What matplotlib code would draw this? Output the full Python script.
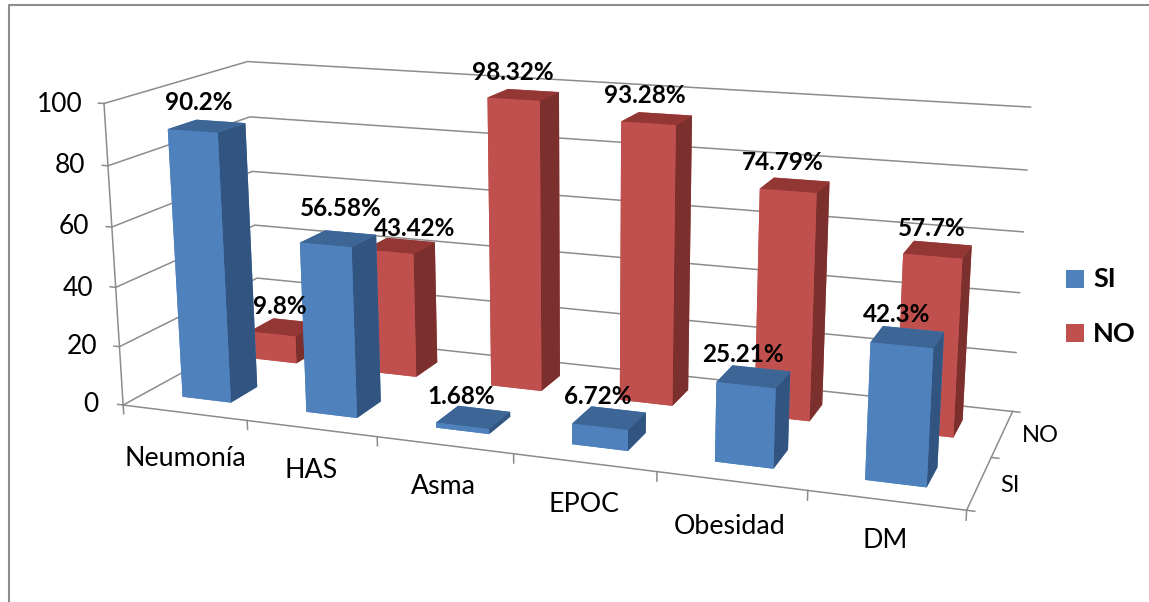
import matplotlib
matplotlib.use("Agg")
import matplotlib.pyplot as plt
from matplotlib.patches import Rectangle
plt.rcParams['font.family'] = ['Lato', 'DejaVu Sans']

categories = ["Neumonía", "HAS", "Asma", "EPOC", "Obesidad", "DM"]
series_names = ["SI", "NO"]
si_values = [90.2, 56.58, 1.68, 6.72, 25.21, 42.3]
no_values = [9.8, 43.42, 98.32, 93.28, 74.79, 57.7]
y_ticks = [0, 20, 40, 60, 80, 100]

# label anchor points in picture pixels
si_label_xy = [(199, 103), (341, 209), (461, 396), (598, 397), (743, 355), (897, 315)]
no_label_xy = [(280, 306), (415, 228), (513, 72), (645, 96), (783, 163), (932, 228)]
cat_label_xy = [(185, 458), (311, 470), (443, 486), (584, 504), (730, 526), (885, 540)]
tick_label_xy = [(91, 405), (82, 347), (78, 288), (74, 227), (70, 166), (60, 105)]
series_label_xy = [(1010, 485), (1040, 436)]
legend_rect_y = [270, 324]
legend_text_y = [279, 334]

W, H = 1149, 602
def px(x, y):
    return x / W, 1 - y / H

fig = plt.figure(figsize=(W/100, H/100), dpi=100, facecolor='white')
side, left, bottom = 955.0, 94.16, 771.16
ax = fig.add_axes([left/W, 1 - bottom/H, side/W, side/H], projection='3d', computed_zorder=False)
ax.set_proj_type('persp', focal_length=0.3844)
ax.view_init(elev=15.03, azim=-70.27)
nx, depth = len(categories), 2.0
xc, yc, zc = 3.2461, 0.7109, 47.46
ax.set_xlim(xc - 3, xc + 3); ax.set_ylim(yc - 1, yc + 1); ax.set_zlim(zc - 50, zc + 50)
ax.set_box_aspect((3.4438, 1.1484, 1.25))
ax.set_xticks([]); ax.set_yticks([]); ax.set_zticks([])
ax.set_axis_off()

grid = '#8c8c8c'
lw = 1.1
def line(xs, ys, zs):
    ax.plot(xs, ys, zs, color=grid, lw=lw, zorder=1, solid_joinstyle='miter')
for t in y_ticks:
    line([0, 0, nx], [0, depth, depth], [t, t, t])
    line([-0.045, 0], [0, 0], [t, t])
line([0, nx], [0, 0], [0, 0])
line([nx, nx], [0, depth], [0, 0])
line([0, 0], [0, 0], [0, 100])
for i in range(nx + 1):
    line([i, i], [0, 0], [0, -3])
for k in range(3):
    line([nx, nx + 0.05], [k, k], [0, 0])

si_cols = ['#4F81BD', '#3D6696', '#4F81BD', '#4F81BD', '#4F81BD', '#325480']
no_cols = ['#C0504D', '#933735', '#C0504D', '#C0504D', '#C0504D', '#7C302E']
w, d = 0.3961, 0.3866
z = 2
for vals, yb, cols in [(no_values, 1.5, no_cols), (si_values, 0.5, si_cols)]:
    for i in range(nx):
        ax.bar3d(i + 0.5 - w/2, yb - d/2, 0, w, d, vals[i], color=cols, shade=False, zorder=z)
        z += 1

for vals, xy in [(si_values, si_label_xy), (no_values, no_label_xy)]:
    for v, (x, y) in zip(vals, xy):
        fig.text(*px(x, y), f"{v:g}%", ha='center', va='center', fontsize=17.5, fontweight='bold', zorder=50)
for c, (x, y) in zip(categories, cat_label_xy):
    fig.text(*px(x, y), c, ha='center', va='center', fontsize=19.3, zorder=50)
for t, (x, y) in zip(y_ticks, tick_label_xy):
    fig.text(*px(x, y), str(t), ha='center', va='center', fontsize=19, zorder=50)
for s, (x, y) in zip(series_names, series_label_xy):
    fig.text(*px(x, y), s, ha='center', va='center', fontsize=17, zorder=50)

for s, col, ry, ty in zip(series_names, ['#4F81BD', '#C0504D'], legend_rect_y, legend_text_y):
    fig.patches.append(Rectangle(px(1066, ry + 18), 18/W, 18/H, transform=fig.transFigure, facecolor=col))
    fig.text(*px(1093, ty), s, fontsize=19.5, fontweight='bold', va='center')
fig.add_artist(plt.Line2D([px(9, 0)[0], px(9, 0)[0], 1], [0, px(0, 5)[1], px(0, 5)[1]], color=grid, lw=1.5))
fig.savefig('out.png', dpi=100)
